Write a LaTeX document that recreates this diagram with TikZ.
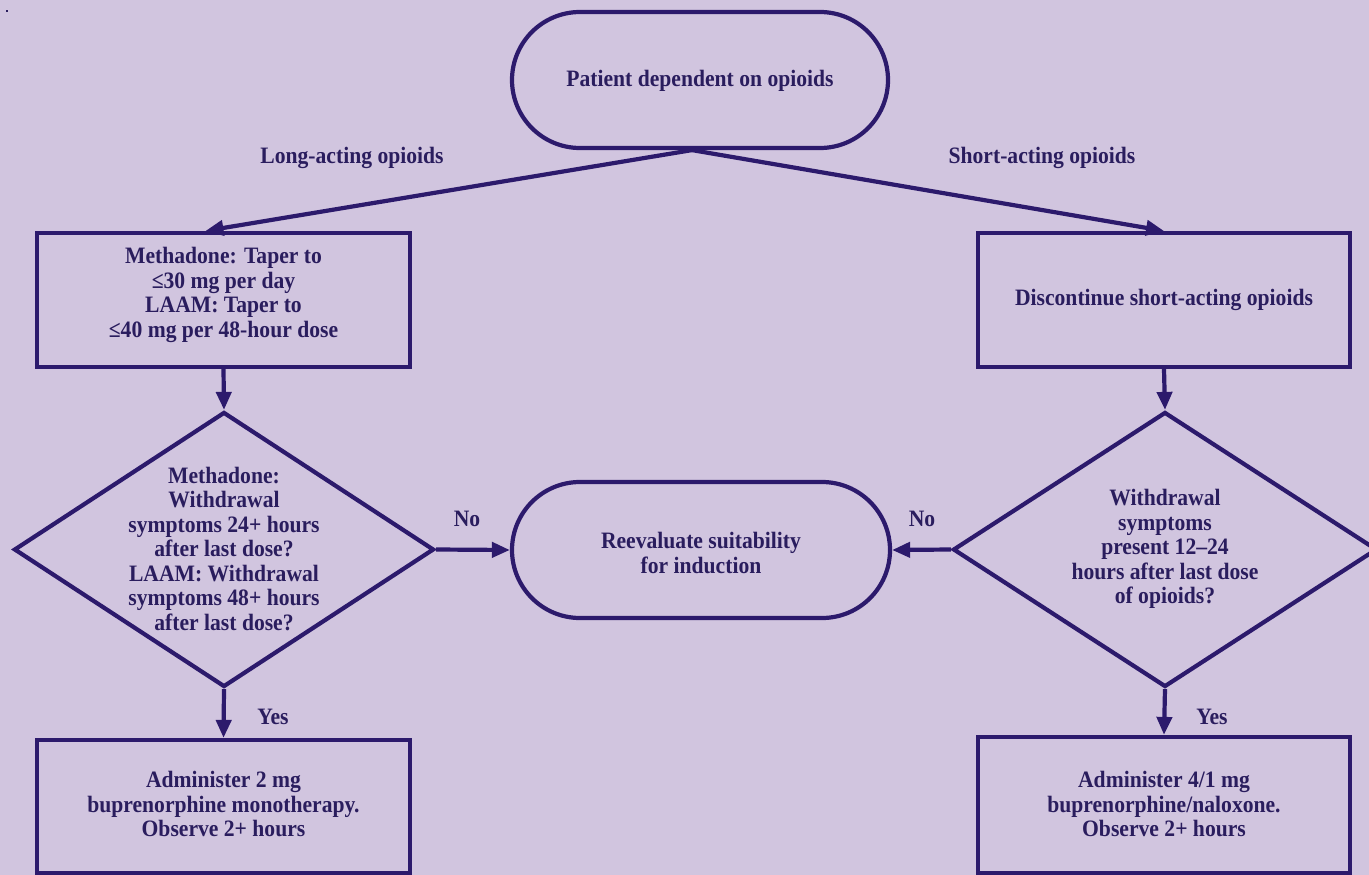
\documentclass[tikz,border=0pt]{standalone}
\usepackage{fontspec}
\setmainfont{Liberation Serif}[FakeStretch=0.92]
\usetikzlibrary{arrows.meta,shapes.geometric}
\definecolor{bgc}{HTML}{D1C5DF}
\definecolor{ink}{HTML}{2C1A6C}
\definecolor{txt}{HTML}{2A1D5E}
\tikzset{
  every node/.style={font=\fontsize{23.5}{24.5}\selectfont\bfseries, text=txt},
  stepbox/.style={draw=ink, line width=4.2pt, rectangle, inner sep=0pt},
  term/.style={draw=ink, line width=4.2pt, rectangle, rounded corners=68pt, minimum width=376pt, minimum height=136pt, inner sep=0pt},
  decide/.style={draw=ink, line width=4.2pt, diamond, inner sep=0pt, minimum width=420pt, minimum height=275pt, aspect=1.53},
  txtnode/.style={align=center, inner sep=0pt},
  arr/.style={draw=ink, line width=4.2pt, -{Triangle[length=18pt,width=15pt]}},
}
\begin{document}
\begin{tikzpicture}[x=1pt,y=-1pt]
\useasboundingbox (0,0) rectangle (1369,875);
\fill[bgc] (0,0) rectangle (1369,875);
\fill[txt] (6,10) rectangle (8,12);
\clip (0,0) rectangle (1369,875);
% shapes
\node[term] (start) at (700,80) {};
\node[txtnode] (starttext) at (700,81) {Patient dependent on opioids};
\node[stepbox, minimum width=373pt, minimum height=134pt] (box1L) at (223.5,300) {};
\node[txtnode] (box1Ltext) at (223.5,295) {Methadone: Taper to\\ ≤30 mg per day\\ LAAM: Taper to\\ ≤40 mg per 48-hour dose};
\node[stepbox, minimum width=372pt, minimum height=134pt] (box1R) at (1164,300) {};
\node[txtnode] (box1Rtext) at (1164,300) {Discontinue short-acting opioids};
\node[decide] (decL) at (224,549.5) {};
\node[txtnode] (decLtext) at (224,549) {Methadone:\\ Withdrawal\\ symptoms 24+ hours\\ after last dose?\\ LAAM: Withdrawal\\ symptoms 48+ hours\\ after last dose?};
\node[decide, minimum width=424pt] (decR) at (1165,549.5) {};
\node[txtnode] (decRtext) at (1165,549) {Withdrawal\\ symptoms\\ present 12--24\\ hours after last dose\\ of opioids?};
\node[term, minimum width=378pt] (reeval) at (701,550) {};
\node[txtnode] (reevaltext) at (701,553) {Reevaluate suitability\\ for induction};
\node[stepbox, minimum width=373pt, minimum height=133pt] (box2L) at (223.5,806.5) {};
\node[txtnode] (box2Ltext) at (223.5,804) {Administer 2 mg\\ buprenorphine monotherapy.\\ Observe 2+ hours};
\node[stepbox, minimum width=372pt, minimum height=136pt] (box2R) at (1164,805) {};
\node[txtnode] (box2Rtext) at (1164,804) {Administer 4/1 mg\\ buprenorphine/naloxone.\\ Observe 2+ hours};
% labels
\node[txtnode] (lblLong) at (352,158) {Long-acting opioids};
\node[txtnode] (lblShort) at (1042,158) {Short-acting opioids};
\node[txtnode] (lblNoL) at (467,519) {No};
\node[txtnode] (lblNoR) at (922,519) {No};
\node[txtnode] (lblYesL) at (273,717) {Yes};
\node[txtnode] (lblYesR) at (1212,717) {Yes};
% connectors
\draw[arr] ([xshift=-8pt]start.south) -- ([xshift=-18pt]box1L.north);
\draw[arr] ([xshift=-8pt]start.south) -- (box1R.north);
\draw[arr] (box1L.south) -- (decL.north);
\draw[arr] (box1R.south) -- (decR.north);
\draw[arr] (decL.east) -- (reeval.west);
\draw[arr] (decR.west) -- (reeval.east);
\draw[arr] (decL.south) -- (box2L.north);
\draw[arr] (decR.south) -- (box2R.north);
\end{tikzpicture}
\end{document}
